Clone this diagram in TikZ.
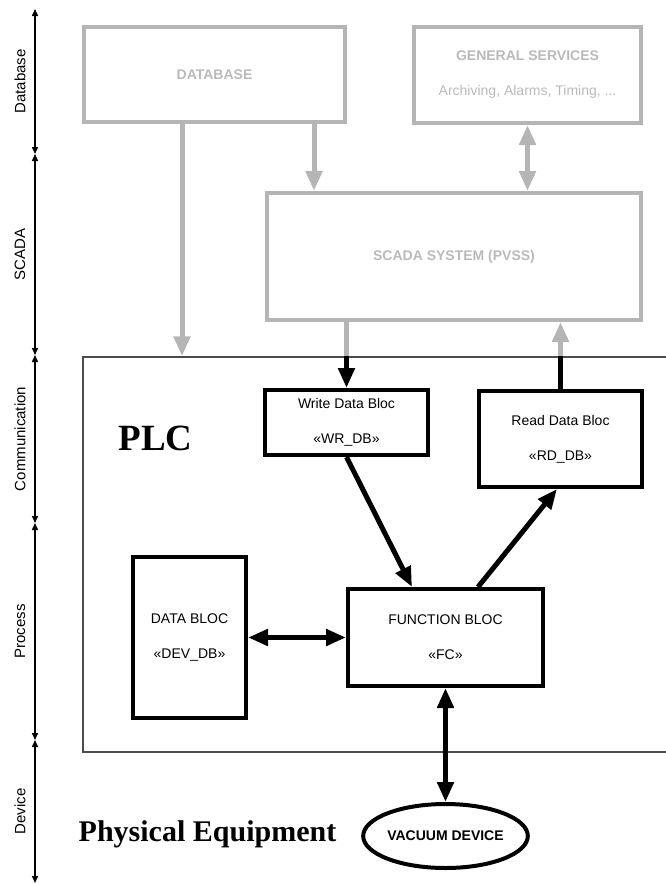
\documentclass[tikz,border=0pt]{standalone}
\usepackage{fontspec}
\setmainfont{Liberation Sans}
\newfontfamily\titlefont{Liberation Serif}
\usepackage{xcolor}
\usepackage{tikz}
\usetikzlibrary{arrows.meta,shapes.geometric}

\definecolor{layergray}{gray}{0.71}
\definecolor{textgray}{gray}{0.73}
\definecolor{framegray}{gray}{0.3}

\tikzset{
  bighead/.tip={Triangle[length=20pt,width=16pt]},
  smallhead/.tip={Triangle[length=7pt,width=6pt]},
  graybox/.style={rectangle, draw=layergray, line width=4pt, text=textgray, align=center, font=\fontsize{14}{16}\selectfont\bfseries},
  blackbox/.style={rectangle, draw, line width=4pt, align=center, font=\fontsize{14}{16}\selectfont},
  grayline/.style={draw=layergray, line width=5pt},
  blackline/.style={line width=5pt},
  grayarrow/.style={grayline, -bighead},
  blackarrow/.style={blackline, -bighead},
  blackdouble/.style={blackline, bighead-bighead},
  axisline/.style={line width=1.5pt, smallhead-smallhead},
  axislabel/.style={rotate=90, font=\fontsize{15}{17}\selectfont},
  bigtitle/.style={font=\titlefont\bfseries\fontsize{30}{34}\selectfont}
}

\begin{document}
\begin{tikzpicture}[x=1pt,y=-1pt]
        \useasboundingbox (0,0) rectangle (665,884);
        \coordinate (ax0) at (35,9);
        \coordinate (ax1) at (35,154);
        \coordinate (ax2) at (35,355);
        \coordinate (ax3) at (35,523);
        \coordinate (ax4) at (35,740);
        \coordinate (ax5) at (35,883);
        \draw[axisline] (ax0) -- (ax1);
        \draw[axisline] (ax1) -- (ax2);
        \draw[axisline] (ax2) -- (ax3);
        \draw[axisline] (ax3) -- (ax4);
        \draw[axisline] (ax4) -- (ax5);
        \node at (20,81.5) [axislabel] (lab1) {Database};
        \node at (20,254.5) [axislabel] (lab2) {SCADA};
        \node at (20,439) [axislabel] (lab3) {Communication};
        \node at (20,631.5) [axislabel] (lab4) {Process};
        \node at (20,811.5) [axislabel] (lab5) {Device};

        \node at (214.5,74.5) [graybox, minimum width=261pt, minimum height=95pt] (db) {DATABASE};
        \node at (527.5,75) [graybox, minimum width=227pt, minimum height=96pt] (gs) {GENERAL SERVICES\\[19pt]\mdseries Archiving, Alarms, Timing, ...};
        \node at (454,256.5) [graybox, minimum width=374pt, minimum height=127pt] (scada) {SCADA SYSTEM (PVSS)};

        \node at (381.5,554.5) [rectangle, draw=framegray, line width=1.3pt, minimum width=597pt, minimum height=395pt] (plc) {};
        \node at (155.5,450) [anchor=base, font=\titlefont\bfseries\fontsize{37}{40}\selectfont] (plclabel) {PLC};

        \node at (346.5,422.5) [blackbox, minimum width=163pt, minimum height=65pt] (wr) {Write Data Bloc\\[19pt]«WR\_DB»};
        \node at (560.5,439) [blackbox, minimum width=163pt, minimum height=96pt] (rd) {Read Data Bloc\\[19pt]«RD\_DB»};
        \node at (445.5,637.5) [blackbox, minimum width=195pt, minimum height=97pt] (fc) {FUNCTION BLOC\\[19pt]«FC»};
        \node at (189.5,637.5) [blackbox, minimum width=113pt, minimum height=161pt] (devdb) {DATA BLOC\\[19pt]«DEV\_DB»};
        \node at (445.5,836) [ellipse, draw, line width=4pt, inner sep=0pt, minimum width=163pt, minimum height=64pt, font=\fontsize{14}{16}\selectfont\bfseries] (vac) {VACUUM DEVICE};
        \node at (207.5,841) [anchor=base, bigtitle] (equip) {Physical Equipment};

        \coordinate (dbl) at ([xshift=-32.5pt]db.south);
        \coordinate (dbr) at ([xshift=99.5pt]db.south);
        \draw[grayarrow] (dbl) -- (dbl |- plc.north);
        \draw[grayarrow] (dbr) -- (dbr |- scada.north);
        \draw[grayline, bighead-bighead] (gs.south) -- (gs.south |- scada.north);
        \draw[grayline] (wr.north |- scada.south) -- (wr.north |- plc.north);
        \draw[blackarrow] (wr.north |- plc.north) -- (wr.north);
        \draw[blackline] (rd.north) -- (rd.north |- plc.north);
        \draw[grayarrow] (rd.north |- plc.north) -- (rd.north |- scada.south);
        \draw[blackarrow] (wr.south) -- ([xshift=-33.5pt]fc.north);
        \draw[blackarrow] ([xshift=32.5pt]fc.north) -- ([xshift=-3.5pt]rd.south);
        \draw[blackdouble] (devdb.east) -- (fc.west);
        \draw[blackdouble] (fc.south) -- (vac.north);
\end{tikzpicture}
\end{document}
